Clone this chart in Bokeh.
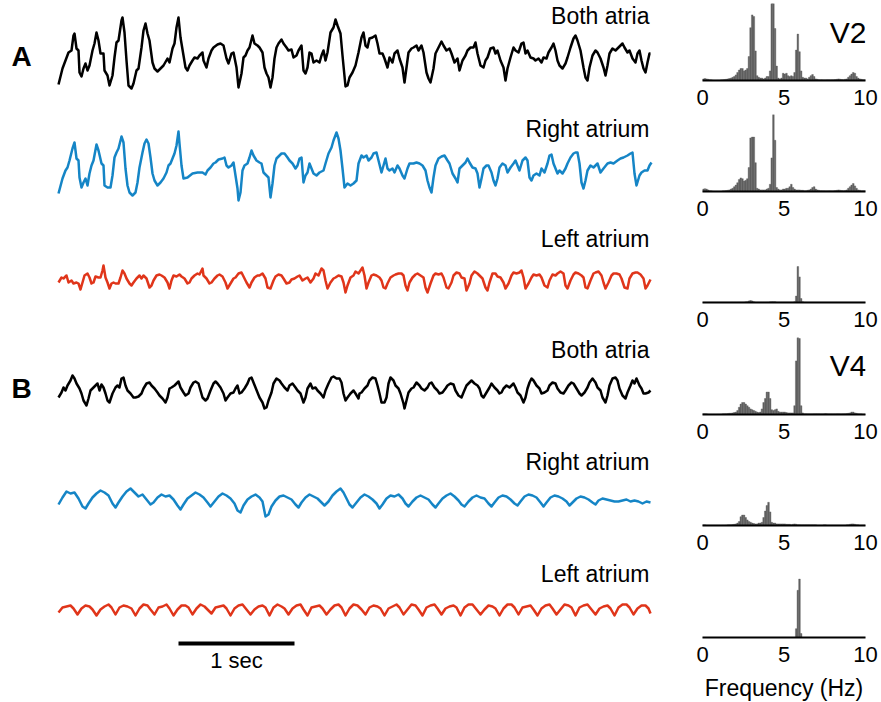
import numpy as np
from bokeh.plotting import figure
from bokeh.layouts import row, column
from bokeh.models import Range1d, Label, FixedTicker
from bokeh.embed import file_html
from bokeh.resources import INLINE

FS = 116.0  # digitised samples per second along each trace (sample index -> seconds)

# ---- traces: (sample index, amplitude in arbitrary units, upward positive) ----
A_BOTH = [(0,-29),(4,-13),(7,-5),(10,3),(13,5),(15,20),(16,22),(18,7),(20,5),(21,-17),(23,-21),(25,-13),(27,-8),(29,-15),(31,-10),
(34,5),(36,12),(38,23),(40,15),(42,2),(45,2),(46,-15),(49,-20),(51,-30),(54,-20),(56,-2),(58,13),(60,15),(63,35),(64,38),(66,23),
(68,-5),(70,-30),(73,-33),(75,-28),(78,-15),(80,-13),(83,8),(85,25),(87,32),(89,22),(91,15),(94,-7),(96,-13),(99,-16),(102,-13),
(105,-10),(109,-3),(111,-7),(114,7),(116,12),(118,28),(120,38),(122,18),(125,0),(127,-12),(129,-15),(131,-10),(134,-5),(136,-2),
(139,-3),(141,0),(144,3),(145,-5),(148,-12),(150,-3),(153,5),(155,8),(159,11),(162,12),(165,10),(168,-3),(170,-8),(173,2),(175,3),
(178,-12),(180,-32),(183,-18),(185,-2),(187,0),(189,5),(191,8),(194,20),(196,12),(199,10),(201,8),(204,3),(206,-12),(208,-18),
(210,-22),(212,-32),(214,-22),(216,-3),(218,8),(220,12),(223,16),(225,12),(228,8),(230,5),(233,6),(235,-2),(238,0),(240,5),(243,10),
(245,-15),(247,-18),(249,-12),(251,3),(253,2),(255,-7),(258,-5),(261,-7),(263,0),(265,5),(267,-5),(269,3),(272,23),(275,28),(277,36),
(279,30),(282,22),(284,0),(287,-31),(289,-30),(291,-22),(294,-17),(297,-10),(300,3),(303,18),(305,23),(307,10),(309,8),(311,17),
(314,18),(317,20),(319,12),(321,2),(324,2),(326,-3),(329,-12),(331,-2),(334,-7),(336,2),(339,5),(341,-3),(344,-12),(346,-27),
(348,-12),(350,3),(353,7),(355,8),(358,10),(360,5),(363,10),(365,3),(368,-17),(370,-23),(372,-27),(375,-13),(377,2),(380,8),(383,14),
(385,10),(388,5),(391,7),(393,2),(396,-7),(399,-3),(401,-15),(404,-5),(407,0),(409,5),(412,8),(415,8),(417,13),(419,2),(422,-10),
(425,-12),(427,-5),(429,-2),(432,7),(435,8),(437,2),(439,5),(442,-5),(445,-12),(447,-25),(449,-13),(452,-2),(455,8),(457,5),(460,3),
(463,12),(465,13),(467,2),(469,5),(472,-2),(475,-3),(477,-5),(480,-3),(483,-7),(485,-2),(488,-3),(490,3),(493,8),(495,12),(497,5),
(499,-5),(501,-10),(504,-13),(507,-8),(509,-2),(512,8),(515,17),(517,20),(519,15),(522,5),(525,-12),(527,-22),(529,-25),(531,-12),
(534,0),(537,5),(539,3),(542,-3),(545,-12),(547,-20),(549,-10),(551,2),(554,7),(557,5),(560,8),(564,12),(566,8),(569,3),(571,5),
(574,-3),(577,-7),(579,2),(581,5),(583,-5),(585,-13),(587,-17),(589,-7),(591,2),(592,2)]

A_RIGHT = [(0,-25),(4,-10),(7,-2),(9,1),(11,8),(14,20),(16,26),(18,10),(20,8),(21,-9),(23,-19),(25,-14),(27,-10),(29,-17),(31,-5),
(33,3),(35,8),(38,24),(40,18),(43,5),(45,3),(46,-17),(49,-19),(52,-19),(54,-7),(56,11),(58,16),(60,20),(63,32),(65,26),(67,0),
(69,-17),(71,-24),(74,-27),(77,-24),(79,-14),(81,1),(84,16),(86,25),(88,29),(90,25),(92,11),(94,-5),(96,-12),(99,-17),(102,-14),
(105,-10),(108,-4),(110,3),(112,5),(114,10),(116,15),(118,23),(120,37),(121,25),(123,3),(125,-10),(129,-9),(134,-5),(139,-4),
(144,-4),(147,-6),(149,-2),(152,1),(155,5),(157,6),(160,9),(164,10),(166,11),(168,3),(170,1),(173,3),(175,6),(177,-7),(179,-20),
(180,-32),(182,-24),(184,-2),(186,3),(189,5),(191,11),(193,18),(195,13),(198,8),(201,6),(203,5),(205,-4),(208,-7),(210,-9),
(212,-29),(214,-15),(216,3),(218,10),(221,13),(223,15),(226,15),(229,11),(231,8),(234,5),(237,0),(239,3),(241,10),(243,11),
(245,-14),(247,-7),(249,-4),(251,5),(253,0),(255,-5),(258,-7),(261,-4),(265,-2),(267,5),(270,15),(273,21),(275,28),(278,36),
(280,30),(282,18),(284,0),(286,-19),(289,-15),(292,-17),(295,-15),(298,-12),(300,5),(303,13),(305,11),(308,13),(310,8),(313,11),
(315,15),(318,16),(320,8),(323,-4),(325,3),(327,10),(329,0),(331,-2),(334,0),(336,-4),(339,3),(341,0),(344,-7),(346,-10),(349,0),
(351,5),(355,5),(358,6),(361,5),(364,3),(367,-2),(369,-12),(371,-19),(373,-24),(375,-9),(377,3),(380,10),(383,12),(386,13),
(389,8),(391,5),(394,-5),(397,-10),(399,-14),(401,0),(404,3),(407,6),(409,10),(411,6),(414,1),(417,0),(419,-5),(421,-19),
(423,-10),(425,0),(428,3),(430,3),(433,-4),(435,-12),(437,-17),(439,-10),(441,1),(444,5),(447,3),(449,-4),(452,1),(455,5),
(457,8),(459,3),(461,-2),(464,8),(467,11),(469,8),(471,-9),(473,-12),(475,-7),(478,-5),(481,-7),(483,0),(486,-4),(489,5),
(491,13),(493,14),(495,5),(497,0),(499,-5),(501,-2),(504,-5),(507,0),(509,5),(512,11),(515,15),(517,16),(519,16),(521,5),
(523,-14),(525,-20),(527,-12),(529,-2),(532,3),(535,1),(539,5),(542,-4),(545,0),(549,5),(552,6),(555,5),(559,8),(562,10),
(565,11),(569,13),(572,15),(574,16),(576,-5),(578,-17),(581,-7),(583,-4),(586,-2),(589,-2),(591,3),(593,6)]

A_LEFT = [(0,-3),(3,2),(5,1),(8,4),(10,-3),(13,-1),(15,-4),(18,-3),(20,-4),(22,-10),(24,-3),(26,4),(29,6),(31,2),(33,-4),(35,-3),
(37,3),(40,2),(42,2),(44,9),(45,14),(47,2),(49,-3),(51,-9),(53,-4),(55,-3),(57,-4),(60,-4),(62,2),(64,9),(66,6),(68,1),(71,-4),
(73,-6),(75,-3),(78,1),(81,4),(83,1),(85,4),(88,1),(91,-8),(93,-6),(95,-1),(98,4),(101,5),(103,4),(106,2),(109,-3),(111,-9),
(113,-1),(115,4),(118,3),(121,5),(123,3),(126,1),(129,-4),(131,-3),(133,1),(136,4),(139,6),(141,5),(144,11),(145,4),(148,1),
(151,-4),(153,-3),(156,1),(159,4),(161,5),(164,3),(167,-3),(169,-9),(172,-4),(175,1),(177,2),(180,6),(183,7),(185,3),(188,-3),
(191,-8),(193,-3),(196,2),(199,4),(201,4),(204,6),(207,1),(209,-8),(212,-9),(215,-1),(217,3),(220,5),(223,4),(225,1),(228,-4),
(231,-3),(233,0),(236,1),(239,3),(241,4),(244,-1),(247,1),(249,2),(252,-3),(255,1),(257,6),(260,4),(263,11),(265,9),(267,-1),
(269,-9),(272,-3),(275,1),(277,2),(280,4),(283,3),(285,-3),(287,-13),(289,-6),(292,2),(295,4),(297,8),(300,6),(302,9),(304,12),
(306,4),(308,-9),(310,-3),(313,4),(315,5),(318,4),(321,2),(323,-1),(325,-8),(327,-9),(329,-4),(332,2),(335,4),(337,5),(340,6),
(343,6),(345,4),(347,-6),(349,-11),(351,-3),(354,2),(357,5),(359,6),(362,4),(365,2),(367,-8),(369,-13),(372,-4),(375,4),(377,6),
(380,5),(383,6),(385,2),(388,-8),(390,-9),(393,-3),(395,4),(398,7),(401,6),(403,2),(406,1),(408,-11),(411,-4),(413,4),(416,8),
(419,6),(421,4),(424,1),(427,-8),(429,-11),(431,-3),(434,6),(437,6),(439,3),(442,2),(445,-3),(447,-9),(450,-4),(453,4),(455,7),
(458,6),(461,7),(463,9),(465,2),(467,-9),(470,-4),(473,2),(475,5),(478,4),(481,5),(483,2),(486,-6),(489,-8),(491,-1),(494,5),
(497,4),(499,6),(502,8),(505,6),(507,-6),(509,-9),(512,-1),(515,5),(517,7),(520,6),(523,4),(525,2),(527,-8),(529,-9),(532,-1),
(535,6),(537,7),(540,8),(543,4),(545,-3),(547,-9),(550,-3),(553,4),(555,6),(558,6),(561,5),(563,1),(566,-8),(569,-9),(571,1),
(574,6),(577,7),(579,7),(582,5),(585,1),(587,-9),(589,-6),(592,0)]

B_BOTH = [(0,-8),(3,-3),(5,2),(7,-1),(9,4),(12,9),(14,14),(16,11),(18,6),(21,1),(23,-4),(25,-11),(28,-16),(30,-9),(32,-1),(35,2),
(37,4),(39,6),(41,-1),(43,5),(45,2),(47,-4),(49,-11),(51,-13),(54,-4),(57,2),(59,4),(61,2),(63,11),(65,12),(67,4),(69,-1),(72,-4),
(75,-8),(77,-8),(80,-7),(83,-4),(85,1),(88,6),(91,7),(93,4),(96,1),(99,-3),(101,-6),(104,-9),(107,-13),(109,-8),(111,1),(113,2),
(116,4),(118,6),(120,8),(122,2),(125,-3),(127,-6),(130,-4),(132,2),(135,7),(137,8),(140,6),(142,-1),(144,-8),(147,-11),(149,-9),
(152,-1),(155,6),(157,8),(159,6),(162,2),(165,-4),(167,-11),(169,-8),(172,-4),(175,-3),(177,1),(179,4),(181,-4),(183,-3),(186,1),
(189,6),(191,11),(193,12),(195,7),(197,2),(199,-3),(201,-8),(204,-13),(206,-19),(208,-18),(210,-11),(213,-3),(215,6),(218,11),
(221,9),(223,6),(226,2),(229,-1),(231,4),(234,6),(237,2),(239,-1),(242,-4),(245,-13),(247,-8),(249,1),(252,6),(254,1),(257,2),
(259,-1),(262,-4),(265,-8),(267,-1),(270,6),(273,12),(275,13),(278,11),(281,11),(283,7),(285,-4),(287,-11),(289,-8),(292,-4),
(295,-1),(297,-4),(300,-9),(301,-4),(303,-3),(306,1),(309,4),(311,9),(314,12),(317,11),(319,4),(321,-4),(323,-13),(326,-13),
(328,-8),(330,6),(332,12),(335,9),(337,4),(340,1),(342,-4),(345,-14),(346,-19),(348,-11),(350,-3),(353,1),(355,2),(358,7),(361,4),
(363,1),(366,-1),(369,2),(371,6),(373,7),(376,2),(379,-1),(381,-4),(384,-3),(387,1),(389,4),(392,6),(395,5),(397,-1),(400,-6),
(403,-8),(405,-3),(408,4),(411,7),(413,9),(416,6),(419,4),(421,1),(423,-6),(425,-8),(428,-3),(431,2),(433,6),(436,2),(439,-1),
(441,-4),(443,-3),(445,1),(448,4),(451,2),(453,4),(455,6),(457,2),(459,-3),(462,-6),(465,-13),(467,-8),(469,1),(471,7),(473,11),
(475,9),(478,4),(481,1),(483,-4),(486,-3),(489,-1),(491,4),(494,7),(497,6),(499,1),(502,-3),(505,-4),(507,-1),(510,4),(513,7),
(515,6),(518,1),(521,-4),(523,-6),(526,-3),(529,2),(531,7),(534,11),(537,7),(539,2),(542,-1),(544,-8),(547,-13),(549,-6),(551,4),
(554,11),(557,12),(559,9),(561,1),(564,-6),(567,-9),(569,-3),(572,4),(574,9),(576,6),(578,11),(581,4),(583,1),(585,-4),(587,-4),
(590,-3),(592,-1)]

B_RIGHT = [(0,-4),(4,3),(8,9),(12,7),(16,8),(20,2),(24,-6),(27,-8),(30,-3),(34,3),(38,7),(42,10),(46,8),(50,5),(54,-3),(57,-7),
(60,-2),(64,4),(68,9),(72,12),(76,8),(80,4),(84,6),(88,1),(92,-4),(95,-2),(99,3),(103,6),(107,4),(111,5),(115,1),(119,-5),(122,-9),
(125,-4),(129,2),(133,5),(137,8),(141,6),(145,3),(149,-2),(152,-6),(156,-1),(160,4),(164,7),(168,5),(172,2),(176,-3),(179,-10),
(182,-12),(185,-5),(189,1),(193,4),(197,6),(201,3),(204,-1),(207,-16),(210,-14),(213,-6),(217,0),(221,4),(225,5),(229,3),(233,1),
(237,-4),(240,-7),(243,-2),(247,3),(251,6),(255,4),(259,2),(263,-2),(266,-5),(270,-1),(274,5),(278,9),(282,12),(285,8),(288,2),
(291,-4),(294,-7),(298,-2),(302,3),(306,6),(310,4),(314,1),(318,-3),(321,-8),(324,-4),(328,2),(332,5),(336,4),(340,6),(344,2),
(347,-3),(350,-6),(354,-1),(358,3),(362,5),(366,3),(370,1),(374,-4),(377,-7),(380,-3),(384,2),(388,5),(392,7),(396,4),(400,0),
(403,-4),(406,-6),(410,-1),(414,3),(418,5),(422,3),(426,2),(430,-3),(433,-6),(436,-2),(440,3),(444,5),(448,4),(452,1),(456,-3),
(459,-5),(462,-1),(466,4),(470,6),(474,5),(478,3),(482,-2),(485,-6),(488,-2),(492,3),(496,5),(500,4),(504,2),(508,-1),(511,-5),
(514,-2),(518,2),(522,4),(526,3),(530,1),(534,-2),(537,-4),(540,0),(544,2),(548,1),(552,0),(556,-1),(560,-1),(564,0),(568,1),
(572,-1),(576,0),(580,-1),(584,-3),(588,-1),(592,-2)]

B_LEFT = [(0,-3),(4,2),(8,3),(12,4),(15,1),(19,-5),(23,1),(27,4),(31,3),(34,0),(38,-6),(42,0),(46,3),(50,5),(53,2),
(57,-5),(61,2),(65,4),(69,3),(73,1),(77,-6),(81,1),(85,5),(89,4),(92,0),(96,-5),(100,2),(104,3),(108,5),(111,1),
(115,-6),(119,0),(123,4),(127,4),(130,2),(134,-5),(138,1),(142,5),(146,3),(149,0),(153,-4),(157,2),(161,3),(165,4),(168,1),
(172,-6),(176,1),(180,4),(184,5),(188,0),(192,-5),(196,0),(200,3),(204,4),(207,2),(211,-6),(215,2),(219,5),(223,3),(226,1),
(230,-5),(234,1),(238,4),(242,5),(245,0),(249,-6),(253,2),(257,3),(261,4),(264,1),(268,-5),(272,0),(276,4),(280,5),(283,2),
(287,-6),(291,1),(295,5),(299,4),(303,0),(307,-5),(311,2),(315,4),(319,3),(322,1),(326,-6),(330,1),(334,3),(338,5),(341,2),
(345,-5),(349,0),(353,5),(357,4),(360,0),(364,-6),(368,2),(372,4),(376,5),(379,1),(383,-5),(387,1),(391,3),(395,4),(398,2),
(402,-6),(406,2),(410,5),(414,5),(418,0),(422,-5),(426,0),(430,4),(434,3),(437,1),(441,-6),(445,1),(449,5),(453,5),(456,2),
(460,-5),(464,2),(468,3),(472,4),(475,0),(479,-6),(483,1),(487,4),(491,5),(494,1),(498,-5),(502,0),(506,5),(510,4),(513,2),
(517,-6),(521,2),(525,4),(529,5),(533,0),(537,-5),(541,1),(545,3),(549,4),(552,1),(556,-6),(560,2),(564,5),(568,5),(571,2),
(575,-5),(579,1),(583,4),(587,4),(590,1),(592,-4)]

# ---- spectra: relative power in 0.1 Hz bins from 0 to 10 Hz ----
FREQ_BIN_WIDTH = 0.1
SPEC_A_BOTH = [0.02,0.025,0.02,0.015,0.01,0.008,0.006,0.005,0.005,0.006,
 0.006,0.008,0.01,0.012,0.015,0.02,0.025,0.03,0.04,0.05,
 0.07,0.10,0.13,0.15,0.15,0.12,0.13,0.15,0.30,0.66,
 0.82,0.80,0.37,0.06,0.04,0.03,0.03,0.02,0.03,0.05,
 0.05,0.12,1.30,1.20,0.65,0.18,0.03,0.02,0.03,0.09,
 0.08,0.09,0.06,0.05,0.06,0.05,0.10,0.38,0.58,0.36,
 0.12,0.04,0.03,0.03,0.02,0.04,0.06,0.075,0.05,0.02,
 0.015,0.01,0.01,0.01,0.008,0.008,0.01,0.01,0.008,0.01,
 0.01,0.012,0.015,0.02,0.015,0.012,0.01,0.015,0.02,0.04,
 0.06,0.08,0.10,0.09,0.05,0.03,0.02,0.015,0.01,0.01]
SPEC_A_RIGHT = [0.03,0.035,0.03,0.02,0.01,0.008,0.006,0.005,0.005,0.005,
 0.005,0.006,0.008,0.01,0.012,0.015,0.02,0.03,0.04,0.06,
 0.08,0.11,0.15,0.17,0.16,0.13,0.14,0.16,0.30,0.67,
 0.68,0.68,0.36,0.04,0.03,0.02,0.02,0.02,0.02,0.03,
 0.04,0.09,0.42,0.97,0.64,0.05,0.03,0.02,0.02,0.03,
 0.03,0.04,0.04,0.06,0.09,0.05,0.03,0.02,0.02,0.02,
 0.015,0.015,0.01,0.01,0.015,0.02,0.03,0.05,0.06,0.03,
 0.02,0.015,0.01,0.01,0.01,0.008,0.008,0.01,0.01,0.008,
 0.01,0.012,0.015,0.02,0.015,0.012,0.01,0.012,0.02,0.04,
 0.06,0.08,0.10,0.07,0.04,0.02,0.015,0.01,0.01,0.01]
SPEC_A_LEFT = [0.004,0.004,0.004,0.004,0.004,0.004,0.004,0.004,0.004,0.004,
 0.004,0.004,0.004,0.004,0.004,0.004,0.004,0.005,0.005,0.005,
 0.005,0.005,0.006,0.006,0.006,0.006,0.008,0.01,0.02,0.025,
 0.02,0.01,0.006,0.005,0.005,0.005,0.005,0.005,0.005,0.006,
 0.006,0.008,0.01,0.01,0.01,0.006,0.005,0.005,0.005,0.005,
 0.005,0.005,0.005,0.005,0.006,0.006,0.01,0.08,0.45,0.32,
 0.05,0.01,0.005,0.005,0.004,0.004,0.004,0.004,0.004,0.004,
 0.004,0.004,0.004,0.004,0.004,0.004,0.004,0.004,0.004,0.004,
 0.004,0.004,0.004,0.004,0.004,0.004,0.004,0.004,0.004,0.004,
 0.004,0.004,0.004,0.004,0.004,0.004,0.004,0.004,0.004,0.004]
SPEC_B_BOTH = [0.01,0.01,0.008,0.006,0.005,0.005,0.005,0.005,0.005,0.006,
 0.006,0.007,0.008,0.01,0.01,0.012,0.015,0.015,0.02,0.025,
 0.03,0.05,0.09,0.13,0.15,0.15,0.13,0.11,0.09,0.07,
 0.06,0.05,0.04,0.03,0.025,0.03,0.07,0.15,0.20,0.28,
 0.28,0.20,0.06,0.05,0.06,0.07,0.04,0.03,0.03,0.03,
 0.03,0.025,0.02,0.02,0.02,0.02,0.11,0.67,0.99,0.95,
 0.11,0.02,0.01,0.01,0.008,0.008,0.008,0.008,0.01,0.01,
 0.01,0.01,0.008,0.008,0.01,0.012,0.01,0.008,0.008,0.008,
 0.008,0.008,0.01,0.01,0.008,0.008,0.01,0.01,0.012,0.015,
 0.02,0.03,0.03,0.02,0.015,0.01,0.008,0.008,0.006,0.006]
SPEC_B_RIGHT = [0.008,0.008,0.006,0.005,0.005,0.005,0.005,0.005,0.005,0.005,
 0.005,0.005,0.006,0.006,0.007,0.008,0.01,0.01,0.012,0.015,
 0.02,0.03,0.05,0.11,0.13,0.13,0.10,0.07,0.05,0.04,
 0.03,0.025,0.02,0.02,0.03,0.03,0.04,0.10,0.18,0.25,
 0.29,0.17,0.04,0.03,0.03,0.02,0.02,0.02,0.02,0.02,
 0.02,0.015,0.015,0.015,0.01,0.015,0.02,0.015,0.01,0.01,
 0.008,0.008,0.008,0.008,0.008,0.008,0.008,0.008,0.008,0.008,
 0.006,0.006,0.006,0.006,0.008,0.008,0.006,0.006,0.006,0.006,
 0.006,0.006,0.006,0.006,0.006,0.006,0.006,0.006,0.008,0.01,
 0.015,0.02,0.02,0.015,0.01,0.008,0.006,0.006,0.006,0.006]
SPEC_B_LEFT = [0.0]*57 + [0.11,0.59,0.73,0.05] + [0.0]*39

TRACE_LABELS = ["Both atria", "Right atrium", "Left atrium", "Both atria", "Right atrium", "Left atrium"]
PANEL_LABELS = ["A", "B"]
LEAD_LABELS = ["V2", "V4"]
FREQ_TICKS = [0, 5, 10]

FONT = "Liberation Sans"
BLACK, BLUE, RED, GREY = "#000000", "#1585c6", "#e0351a", "#606060"

traces = [A_BOTH, A_RIGHT, A_LEFT, B_BOTH, B_RIGHT, B_LEFT]
colors = [BLACK, BLUE, RED, BLACK, BLUE, RED]
offsets = [55, 168, 279, 389, 500, 609]      # vertical stacking of the traces (px from top)
label_y = [15, 128, 238, 349, 461, 573]      # label anchor (px from top)

left = figure(frame_width=690, frame_height=702,
              x_range=Range1d(-58 / FS, 632 / FS), y_range=Range1d(-702, 0),
              x_axis_location=None, y_axis_location=None, title=None,
              min_border_left=0, min_border_right=0, min_border_top=0, min_border_bottom=0,
              output_backend="svg", toolbar_location=None)
left.grid.visible = False
left.outline_line_color = None
left.background_fill_color = None
left.border_fill_color = None

for tr, col, off, ly, lab in zip(traces, colors, offsets, label_y, TRACE_LABELS):
    idx, amp = zip(*tr)
    t = np.array(idx, dtype=float) / FS
    y = -off + np.array(amp, dtype=float)
    left.line(t, y, line_color=col, line_width=2.5, line_join="round")
    left.add_layout(Label(x=591 / FS, y=-ly, text=lab, text_align="right",
                          text_baseline="alphabetic", text_font=FONT,
                          text_font_size="23px", text_color="black"))

for lab, yb in zip(PANEL_LABELS, [56, 388]):
    left.add_layout(Label(x=-47 / FS, y=-yb, text=lab, text_align="left",
                          text_baseline="alphabetic", text_font=FONT,
                          text_font_style="bold", text_font_size="28px", text_color="black"))

# 1-second scale bar
bar_t0 = 120 / FS
left.line([bar_t0, bar_t0 + 1.0], [-643, -643], line_color="black", line_width=4, line_cap="butt")
left.add_layout(Label(x=bar_t0 + 0.5, y=-660, text="1 sec", text_align="center",
                      text_baseline="alphabetic", text_font=FONT, text_font_size="22px",
                      text_color="black"))

specs = [SPEC_A_BOTH, SPEC_A_RIGHT, SPEC_A_LEFT, SPEC_B_BOTH, SPEC_B_RIGHT, SPEC_B_LEFT]
FRAME_H = 77
border_top = [3, 0, 0, 1, 0, 1]
border_bottom = [34, 34, 34, 34, 34, 65]
centers = [i * FREQ_BIN_WIDTH + FREQ_BIN_WIDTH / 2 for i in range(len(SPEC_A_BOTH))]

spec_figs = []
for i, sp in enumerate(specs):
    f = figure(frame_width=163, frame_height=FRAME_H,
               x_range=Range1d(0, 10), y_range=Range1d(0, FRAME_H / 80.0),
               y_axis_location=None, title=None,
               min_border_left=12, min_border_right=16,
               min_border_top=border_top[i], min_border_bottom=border_bottom[i],
               output_backend="svg", toolbar_location=None)
    f.grid.visible = False
    f.outline_line_color = None
    f.background_fill_color = None
    f.border_fill_color = None
    f.vbar(x=centers, top=sp, width=FREQ_BIN_WIDTH, fill_color=GREY,
           line_color=GREY, line_width=0.4)
    ax = f.xaxis[0]
    ax.ticker = FixedTicker(ticks=FREQ_TICKS)
    ax.major_tick_line_color = None
    ax.minor_tick_line_color = None
    ax.major_tick_out = 0
    ax.major_tick_in = 0
    ax.axis_line_width = 2
    ax.axis_line_color = "black"
    ax.major_label_standoff = 9
    ax.major_label_text_font = FONT
    ax.major_label_text_font_size = "22px"
    ax.major_label_text_color = "black"
    if i == 5:
        ax.axis_label = "Frequency (Hz)"
        ax.axis_label_text_font = FONT
        ax.axis_label_text_font_size = "23px"
        ax.axis_label_text_font_style = "normal"
        ax.axis_label_text_color = "black"
        ax.axis_label_standoff = 10
    if i in (0, 3):
        f.add_layout(Label(x=7.8, y=0.60 if i == 0 else 0.61, text=LEAD_LABELS[i // 3],
                           text_align="left", text_baseline="alphabetic", text_font=FONT,
                           text_font_size="30px", text_color="black"))
    spec_figs.append(f)

layout = row(left, column(*spec_figs, spacing=0), spacing=0)

open("out.html", "w").write(file_html(layout, INLINE))
